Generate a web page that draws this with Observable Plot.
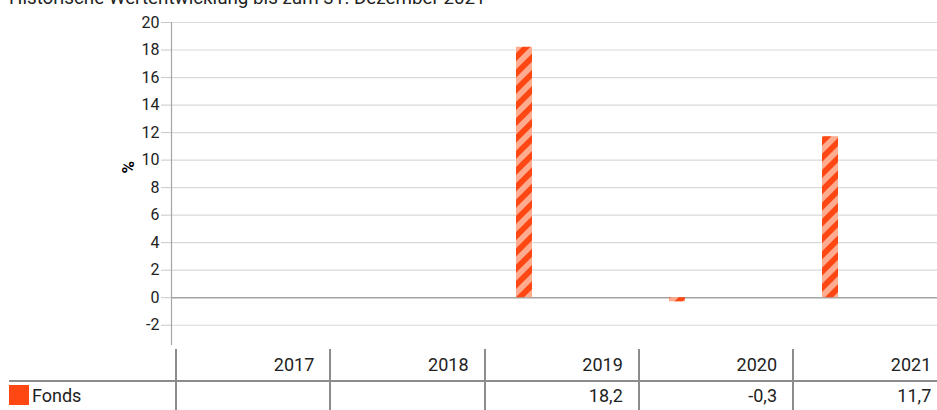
<!DOCTYPE html>
<html>
<head>
<meta charset="utf-8">
<script src="https://cdn.jsdelivr.net/npm/d3@7"></script>
<script src="https://cdn.jsdelivr.net/npm/@observablehq/plot@0.6"></script>
<style>
  body { margin: 0; background: #fff; }
  #wrap { position: relative; width: 937px; height: 410px; overflow: hidden; font-family: Roboto, "Noto Sans", sans-serif; color: #1a1a1a; }
  #title { position: absolute; left: 9px; top: -13px; font-size: 18.8px; line-height: 22px; white-space: nowrap; color: #222; }
  #chart { position: absolute; left: 0; top: 0; }
  .cell { position: absolute; font-size: 18px; line-height: 20px; text-align: right; white-space: nowrap; color: #222; }
  .vline { position: absolute; width: 2px; background: #8c8c8c; }
  .hline { position: absolute; height: 2px; background: #8c8c8c; }
</style>
</head>
<body>
<div id="wrap">
  <div id="chart"></div>
  <div id="title"></div>
</div>
<script>
const titleText = "Historische Wertentwicklung bis zum 31. Dezember 2021";
const years = ["2017", "2018", "2019", "2020", "2021"];
const fondsValues = [null, null, 18.2, -0.3, 11.7];
const seriesName = "Fonds";
const yTicks = [-2, 0, 2, 4, 6, 8, 10, 12, 14, 16, 18, 20];
const yLabel = "%";

document.getElementById("title").textContent = titleText;

const data = years.map((y, i) => ({year: y, value: fondsValues[i]}));
const bars = data.filter(d => d.value != null);

const W = 937, H = 345;
const plot = Plot.plot({
  width: W,
  height: H,
  marginLeft: 171,
  marginRight: 0,
  marginTop: 22,
  marginBottom: 1,
  style: {fontFamily: "Roboto, 'Noto Sans', sans-serif", fontSize: "16px", color: "#222", background: "transparent"},
  x: {type: "band", domain: years, padding: 0, axis: null},
  y: {domain: [-3.4, 20], ticks: yTicks, tickSize: 10, tickPadding: 2, label: null, tickFormat: d => d.toLocaleString("de-DE")},
  marks: [
    Plot.ruleY(yTicks.filter(t => t !== 0), {stroke: "#d9d9d9", strokeWidth: 1.2}),
    Plot.ruleY([0], {stroke: "#a3a3a3", strokeWidth: 1.6}),
    Plot.frame({anchor: "left", stroke: "#a6a6a6", strokeWidth: 1.2}),
    Plot.axisY({ticks: yTicks, tickSize: 10, tickPadding: 2, stroke: "#c8c8c8", fill: "#222", fontSize: 16, label: null, tickFormat: d => d.toLocaleString("de-DE")}),
    Plot.barY(bars, {x: "year", y: "value", fill: "url(#stripes)", insetLeft: 38, insetRight: 99}),
    Plot.text([yLabel], {frameAnchor: "left", dx: -43, dy: -10, rotate: -90, fontWeight: "bold", fontSize: 17, fill: "#000"})
  ]
});

// stripe pattern
const ns = "http://www.w3.org/2000/svg";
const defs = document.createElementNS(ns, "defs");
const pat = document.createElementNS(ns, "pattern");
const P = 11.5;
pat.setAttribute("id", "stripes");
pat.setAttribute("patternUnits", "userSpaceOnUse");
pat.setAttribute("width", P);
pat.setAttribute("height", P);
pat.setAttribute("patternTransform", "rotate(45)");
const r1 = document.createElementNS(ns, "rect");
r1.setAttribute("width", P); r1.setAttribute("height", P); r1.setAttribute("fill", "#ffab8f");
const r2 = document.createElementNS(ns, "rect");
r2.setAttribute("width", P / 2); r2.setAttribute("height", P); r2.setAttribute("fill", "#ff4713");
pat.appendChild(r1); pat.appendChild(r2);
defs.appendChild(pat);
plot.insertBefore(defs, plot.firstChild);
document.getElementById("chart").appendChild(plot);

// table below the chart
const wrap = document.getElementById("wrap");
const colStart = 176, colW = 154.25, pad = 16;
function add(cls, css, text) {
  const el = document.createElement("div");
  el.className = cls;
  Object.assign(el.style, css);
  if (text != null) el.textContent = text;
  wrap.appendChild(el);
  return el;
}
add("hline", {left: "9px", top: "380px", width: (W - 9) + "px"});
years.forEach((y, i) => {
  const left = colStart + i * colW;
  add("vline", {left: (left - 1) + "px", top: "349px", height: "61px"});
  add("cell", {left: left + "px", width: (colW - pad) + "px", top: "355px"}, y);
  const v = fondsValues[i];
  add("cell", {left: left + "px", width: (colW - pad) + "px", top: "386px"},
      v == null ? "" : v.toLocaleString("de-DE", {minimumFractionDigits: 1, maximumFractionDigits: 1}));
});
add("swatch", {position: "absolute", left: "9px", top: "385px", width: "20px", height: "20px", background: "#ff4713"});
add("cell", {left: "32px", top: "386px", textAlign: "left"}, seriesName);
</script>
</body>
</html>
